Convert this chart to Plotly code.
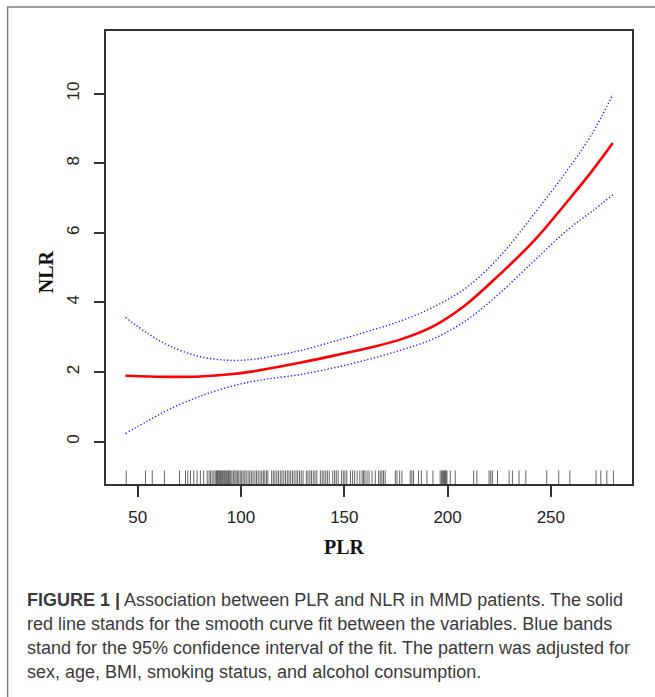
import plotly.graph_objects as go

# ---- data ----
plr_grid = [44, 55, 65, 80, 96, 105, 113, 129, 145, 161, 177, 193, 209, 225, 242, 258, 270, 280]
nlr_fit = [1.89, 1.87, 1.86, 1.87, 1.94, 2.01, 2.09, 2.27, 2.47, 2.68, 2.93, 3.31, 3.94, 4.79, 5.78, 6.90, 7.78, 8.58]
nlr_upper = [3.57, 3.10, 2.76, 2.44, 2.33, 2.36, 2.43, 2.62, 2.88, 3.16, 3.46, 3.86, 4.42, 5.30, 6.55, 7.80, 8.85, 9.98]
nlr_lower = [0.23, 0.60, 0.92, 1.30, 1.60, 1.72, 1.80, 1.93, 2.12, 2.35, 2.62, 2.95, 3.48, 4.25, 5.20, 6.08, 6.62, 7.09]

plr_rug = [44.4, 53.7, 57.0, 62.9, 70.2, 73.1, 74.2, 75.5, 77.1, 78.7, 80.3, 81.9,
           83.6, 84.5, 85.2, 86.0, 86.8, 87.5, 88.1, 88.6, 89.0, 89.5, 90.0, 90.4, 90.9, 91.3,
           91.8, 92.2, 92.7, 93.1, 93.6, 94.0, 94.5, 95.0, 95.6, 96.3, 97.0, 97.6, 98.2, 98.9,
           99.6, 100.3, 101.0, 101.8, 102.5, 103.4, 104.2, 105.0, 105.8, 106.7, 107.5, 108.3,
           109.2, 110.0, 110.8, 111.5, 112.3, 113.0, 114.8, 115.6, 116.4, 117.3, 118.1, 119.0,
           119.8, 120.7, 121.5, 122.4, 123.2, 124.0, 124.9, 125.7, 126.6, 127.4, 128.3, 129.1,
           130.0, 131.6, 132.4, 133.3, 134.1, 135.0, 135.8, 136.7, 138.4, 139.3, 140.1, 141.0,
           141.8, 142.7, 144.4, 145.3, 146.1, 147.0, 148.6, 149.5, 150.3, 151.2, 153.0, 154.0,
           155.0, 156.2, 157.5, 158.6, 159.3, 160.0, 161.0, 162.0,
           163.4, 165.0, 166.6, 167.4, 168.2, 169.0, 169.8, 174.7, 175.5, 176.8, 177.9, 181.9,
           182.7, 183.5, 185.9, 187.3, 190.0, 192.9, 196.4, 197.0, 197.5, 198.0, 198.5, 198.9,
           199.3, 199.7, 201.3, 203.7, 212.6, 214.2, 220.1, 220.9, 221.7, 224.2, 229.8, 231.4,
           234.6, 237.9, 248.0, 253.8, 259.2, 271.9, 274.2, 277.1, 280.3]

x_ticks = [50, 100, 150, 200, 250]
y_ticks = [0, 2, 4, 6, 8, 10]

caption_lines = [
    "<b>FIGURE 1 |</b> Association between PLR and NLR in MMD patients. The solid",
    "red line stands for the smooth curve fit between the variables. Blue bands",
    "stand for the 95% confidence interval of the fit. The pattern was adjusted for",
    "sex, age, BMI, smoking status, and alcohol consumption.",
]

# ---- geometry ----
W, H = 655, 697
L, R, T, B = 105.5, 632, 31, 484.5
YMIN, YMAX = -1.22, 11.8
XMIN, XMAX = 34.6, 289.3
RUG_TOP = -0.83


def px(x):
    return (x - L) / (R - L)


def py(y):
    return (B - y) / (B - T)


rug_x, rug_y = [], []
for v in plr_rug:
    rug_x += [v, v, None]
    rug_y += [YMIN, RUG_TOP, None]

fig = go.Figure()
fig.add_trace(go.Scatter(x=rug_x, y=rug_y, mode="lines",
                         line=dict(color="rgba(20,20,20,0.65)", width=1),
                         hoverinfo="skip", showlegend=False))
for yy in (nlr_upper, nlr_lower):
    fig.add_trace(go.Scatter(x=plr_grid, y=yy, mode="lines",
                             line=dict(color="#2020ff", width=1.4, dash="1.3px,2.1px", shape="spline",
                                       smoothing=1.0),
                             showlegend=False))
fig.add_trace(go.Scatter(x=plr_grid, y=nlr_fit, mode="lines",
                         line=dict(color="#ff0000", width=2.6, shape="spline", smoothing=1.0),
                         showlegend=False))

tick_font = dict(family="Liberation Sans, Arial, sans-serif", size=17, color="#222")
fig.update_xaxes(range=[XMIN, XMAX], tickvals=x_ticks, ticks="outside", ticklen=11,
                 tickwidth=1.5, tickcolor="#333", showline=True, mirror=True,
                 linecolor="#333", linewidth=1.5, showgrid=False, zeroline=False,
                 tickfont=tick_font, ticklabelstandoff=6)
fig.update_yaxes(range=[YMIN, YMAX], tickvals=y_ticks, ticks="outside", ticklen=10,
                 tickwidth=1.5, tickcolor="#333", showline=True, mirror=True,
                 linecolor="#333", linewidth=1.5, showgrid=False, zeroline=False,
                 tickfont=tick_font, tickangle=-90, ticklabelstandoff=8)

annotations = [
    dict(text="<b>NLR</b>", x=px(45), y=py(272), xref="paper", yref="paper",
         showarrow=False, textangle=-90, xanchor="center", yanchor="middle",
         font=dict(family="Liberation Serif, Times New Roman, serif", size=20, color="#111")),
    dict(text="<b>PLR</b>", x=px(344), y=py(548), xref="paper", yref="paper",
         showarrow=False, xanchor="center", yanchor="middle",
         font=dict(family="Liberation Serif, Times New Roman, serif", size=20, color="#111")),
]
for i, line in enumerate(caption_lines):
    annotations.append(dict(text=line, x=px(24), y=py(601 + 24 * i), xref="paper", yref="paper",
                            showarrow=False, xanchor="left", yanchor="middle",
                            font=dict(family="Liberation Sans, Arial, sans-serif", size=18, color="#3a3a3a")))

shapes = [dict(type="rect", xref="paper", yref="paper",
               x0=px(7), x1=px(W + 20), y0=py(H + 20), y1=py(7),
               line=dict(color="#808080", width=1.5), fillcolor="rgba(0,0,0,0)", layer="below")]

fig.update_layout(width=W, height=H, margin=dict(l=L, r=W - R, t=T, b=H - B, pad=0),
                  paper_bgcolor="white", plot_bgcolor="white",
                  annotations=annotations, shapes=shapes, showlegend=False)

fig.write_html("out.html", config={"displayModeBar": False},
               post_script="document.body.style.margin='0';document.body.style.padding='0';")
